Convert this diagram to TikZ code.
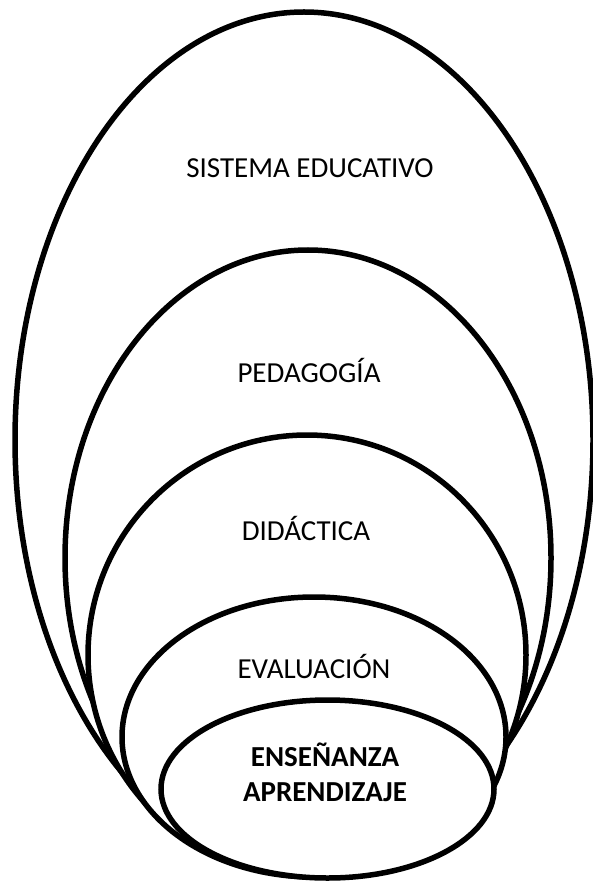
\documentclass[tikz,border=0pt]{standalone}
\usepackage{fontspec}
\setmainfont{Carlito}
\usetikzlibrary{shapes.geometric}

\begin{document}
\begin{tikzpicture}[x=1pt, y=-1pt,
    ring/.style={ellipse, draw, line width=5.5pt, fill=white, inner sep=0pt, outer sep=0pt},
    tag/.style={font=\fontsize{29}{35}\selectfont, align=center}
]
\useasboundingbox (0,0) rectangle (593,882);

% Nested rings, largest first
\node[ring, minimum width=578pt, minimum height=856pt] (sistema) at (304,440) {};
\node[ring, minimum width=486pt, minimum height=616pt] (pedagogia) at (308,558) {};
\node[ring, minimum width=438pt, minimum height=440pt] (didactica) at (307,655) {};
\node[ring, minimum width=384pt, minimum height=280pt] (evaluacion) at (314,737) {};
\node[ring, minimum width=333pt, minimum height=178pt] (ensenanza) at (327.5,789) {};

% Labels
\node[tag] (tsistema) at (310,168) {SISTEMA EDUCATIVO};
\node[tag] (tpedagogia) at (309,370) {PEDAGOGÍA};
\node[tag] (tdidactica) at (306,528) {DIDÁCTICA};
\node[tag] (tevaluacion) at (314,666) {EVALUACIÓN};
\node[tag, font=\fontsize{29}{35}\selectfont\bfseries] (tensenanza) at (325,772) {ENSEÑANZA\\APRENDIZAJE};

\end{tikzpicture}
\end{document}
